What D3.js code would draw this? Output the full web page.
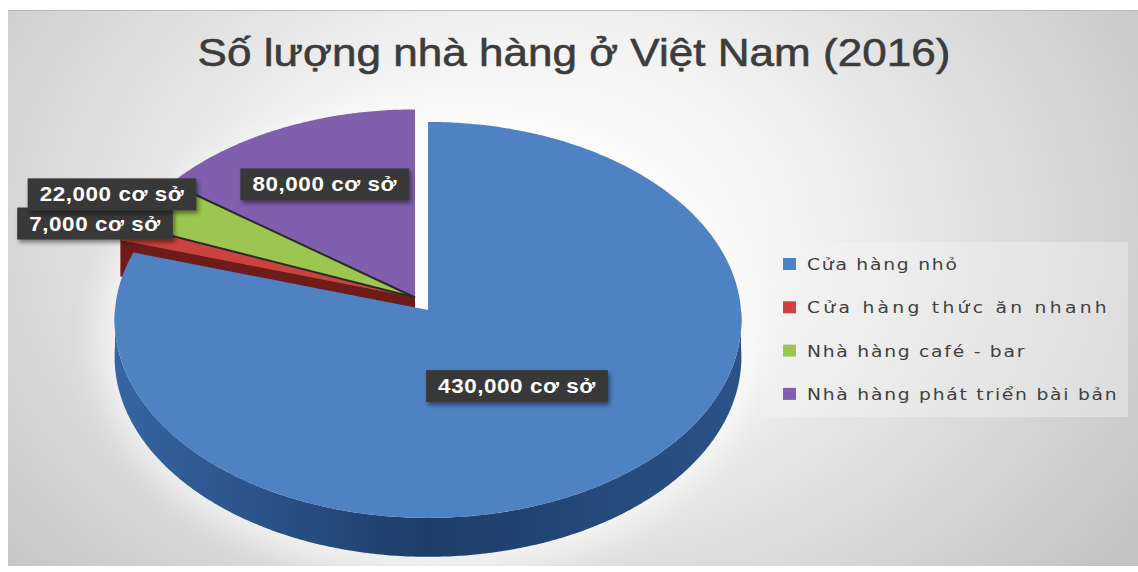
<!DOCTYPE html>
<html>
<head>
<meta charset="utf-8">
<script src="https://cdn.jsdelivr.net/npm/d3@7"></script>
<style>
  body { margin: 0; background: #fff; }
  svg { display: block; }
</style>
</head>
<body>
<script>
// data
const title = "Số lượng nhà hàng ở Việt Nam (2016)";
const categories = ["Cửa hàng nhỏ", "Cửa hàng thức ăn nhanh", "Nhà hàng café - bar", "Nhà hàng phát triển bài bản"];
const values = [430000, 7000, 22000, 80000];
const valueLabels = ["430,000 cơ sở", "7,000 cơ sở", "22,000 cơ sở", "80,000 cơ sở"];
const colors = ["#4f82c2", "#cc4240", "#9cc650", "#7f5fae"];
const sideColors = ["#274d80", "#6e1c1a", "#4f6a22", "#3f2d60"];

const width = 1138, height = 572;

const svg = d3.select("body").append("svg")
    .attr("width", width)
    .attr("height", height);

const defs = svg.append("defs");

// background panel
const bg = defs.append("radialGradient").attr("id", "bg")
    .attr("gradientUnits", "userSpaceOnUse")
    .attr("cx", 540).attr("cy", 230).attr("r", 720)
    .attr("gradientTransform", "translate(540,230) scale(1,0.75) translate(-540,-230)");
bg.append("stop").attr("offset", 0).attr("stop-color", "#ffffff");
bg.append("stop").attr("offset", 0.35).attr("stop-color", "#f3f3f3");
bg.append("stop").attr("offset", 1).attr("stop-color", "#c4c4c4");

const sideGrad = defs.append("linearGradient").attr("id", "side")
    .attr("gradientUnits", "userSpaceOnUse")
    .attr("x1", 115).attr("x2", 742).attr("y1", 0).attr("y2", 0);
sideGrad.append("stop").attr("offset", 0).attr("stop-color", "#3565a3");
sideGrad.append("stop").attr("offset", 0.5).attr("stop-color", "#1e3d69");
sideGrad.append("stop").attr("offset", 1).attr("stop-color", "#2b5388");

const shadow = defs.append("filter").attr("id", "shadow")
    .attr("x", "-20%").attr("y", "-40%").attr("width", "140%").attr("height", "180%");
shadow.append("feDropShadow").attr("dx", 2).attr("dy", 3).attr("stdDeviation", 2)
    .attr("flood-color", "#000").attr("flood-opacity", 0.45);

const glow = defs.append("filter").attr("id", "glow")
    .attr("x", "-20%").attr("y", "-20%").attr("width", "140%").attr("height", "140%");
glow.append("feGaussianBlur").attr("stdDeviation", 14);

svg.append("rect").attr("width", width).attr("height", height).attr("fill", "#fff");
svg.append("rect")
    .attr("x", 8).attr("y", 10).attr("width", width - 8).attr("height", 556)
    .attr("fill", "url(#bg)");
svg.append("line")
    .attr("x1", 8).attr("x2", width).attr("y1", 10.5).attr("y2", 10.5)
    .attr("stroke", "#bdbdbd").attr("stroke-width", 1);

// title
svg.append("g")
    .attr("transform", "translate(574,66) scale(1.13,1)")
    .append("text")
    .attr("text-anchor", "middle")
    .attr("font-family", "Liberation Sans, Arial, sans-serif")
    .attr("font-size", 39)
    .attr("fill", "#3c3c3c")
    .attr("stroke", "#3c3c3c")
    .attr("stroke-width", 0.6)
    .text(title);

// 3d pie projection
const cx = 428, cy = 310, R = 313, Ry = 197.5, dist = 20, depth = 37;
const explodeOffset = [-13, -12.5];

function proj(a, r, z, off) {
    const u = r * Math.sin(a), v = -r * Math.cos(a);
    const s = dist / (dist - v);
    return [cx + off[0] + R * u * s, cy + off[1] + (Ry * v + depth * z) * s];
}

function arcPoints(a0, a1, z, off) {
    const n = Math.max(2, Math.ceil(Math.abs(a1 - a0) / 0.01));
    return d3.range(n + 1).map(i => proj(a0 + (a1 - a0) * i / n, 1, z, off));
}

const line = d3.line();

const arcs = d3.pie().sort(null).value(d => d)(values);
arcs.forEach((d, i) => { d.off = i === 0 ? [0, 0] : explodeOffset; });

const pieG = svg.append("g");

// soft light halo behind the pie
pieG.append("ellipse")
    .attr("cx", cx).attr("cy", cy + 30).attr("rx", R + 20).attr("ry", Ry + 40)
    .attr("fill", "#ffffff").attr("opacity", 0.55).attr("filter", "url(#glow)");

function drawSlice(d, i) {
    const off = d.off;
    // visible radial face at start angle
    if (Math.sin(d.startAngle) < -1e-6) {
        pieG.append("path")
            .attr("d", line([proj(0, 0, 0, off), proj(d.startAngle, 1, 0, off),
                             proj(d.startAngle, 1, 1, off), proj(0, 0, 1, off)]) + "Z")
            .attr("fill", sideColors[i]);
    }
    // visible radial face at end angle
    if (Math.sin(d.endAngle) > 1e-6) {
        pieG.append("path")
            .attr("d", line([proj(0, 0, 0, off), proj(d.endAngle, 1, 0, off),
                             proj(d.endAngle, 1, 1, off), proj(0, 0, 1, off)]) + "Z")
            .attr("fill", sideColors[i]);
    }
    // outer wall on the near half
    const lo = Math.max(d.startAngle, Math.PI / 2), hi = Math.min(d.endAngle, Math.PI * 1.5);
    if (hi > lo) {
        const top = arcPoints(lo, hi, 0, off);
        const bot = arcPoints(hi, lo, 1, off);
        pieG.append("path")
            .attr("d", line(top.concat(bot)) + "Z")
            .attr("fill", i === 0 ? "url(#side)" : sideColors[i]);
    }
}

function drawTop(d, i) {
    const pts = [proj(0, 0, 0, d.off)].concat(arcPoints(d.startAngle, d.endAngle, 0, d.off));
    pieG.append("path")
        .attr("d", line(pts) + "Z")
        .attr("fill", colors[i]);
}

// back slices first (the exploded small ones), then the big one in front
const small = arcs.slice(1);
small.slice().reverse().forEach(d => drawSlice(d, d.index));
small.slice().reverse().forEach(d => drawTop(d, d.index));
// dark seams between the small slices
small.slice(1).forEach(d => {
    pieG.append("path")
        .attr("d", line([proj(0, 0, 0, d.off), proj(d.startAngle, 1, 0, d.off)]))
        .attr("stroke", "#2a2a2a").attr("stroke-width", 2).attr("fill", "none");
});
drawSlice(arcs[0], 0);
drawTop(arcs[0], 0);

// data labels: big slices inside, thin slices outside the rim
const total = d3.sum(values);
const labelG = svg.append("g");
arcs.forEach((d, i) => {
    const frac = d.value / total;
    const mid = (d.startAngle + d.endAngle) / 2;
    const outside = frac < 0.1;
    const g = labelG.append("g");
    const rect = g.append("rect").attr("fill", "#383838").attr("filter", "url(#shadow)");
    const t = g.append("g").attr("transform", "scale(1.15,1)")
        .append("text")
        .attr("text-anchor", "middle")
        .attr("dy", "0.36em")
        .attr("font-family", "Liberation Sans, Arial, sans-serif")
        .attr("font-weight", "bold")
        .attr("font-size", 19.5)
        .attr("letter-spacing", 0.5)
        .attr("fill", "#ffffff")
        .text(valueLabels[i]);
    const w = t.node().getComputedTextLength() * 1.15 + 24;
    rect.attr("x", -w / 2).attr("y", -16).attr("width", w).attr("height", 32);
    let x, y;
    if (outside) {
        const [rx, ry] = proj(mid, 1, 0, d.off);
        x = rx + 48 - w / 2;
        y = ry - 9;
    } else {
        [x, y] = proj(mid, frac > 0.5 ? 0.47 : 0.66, 0, d.off);
    }
    g.attr("transform", `translate(${x},${y})`);
});

// legend
const legend = svg.append("g").attr("transform", "translate(783,264)");
legend.append("rect")
    .attr("x", -23).attr("y", -22).attr("width", 368).attr("height", 175)
    .attr("fill", "#f4f4f4").attr("opacity", 0.4);
const item = legend.selectAll("g.item")
    .data(categories)
    .join("g")
    .attr("class", "item")
    .attr("transform", (d, i) => `translate(0,${i * 43.3})`);
item.append("rect")
    .attr("x", 0).attr("y", -6).attr("width", 13).attr("height", 12)
    .attr("fill", (d, i) => colors[i]);
item.append("g")
    .attr("transform", "translate(24,6) scale(1.17,1)")
    .append("text")
    .attr("font-family", "DejaVu Sans, Verdana, sans-serif")
    .attr("font-size", 16)
    .attr("letter-spacing", (d, i) => i === 1 ? 2.8 : 1.5)
    .attr("fill", "#404040")
    .text(d => d);
</script>
</body>
</html>
